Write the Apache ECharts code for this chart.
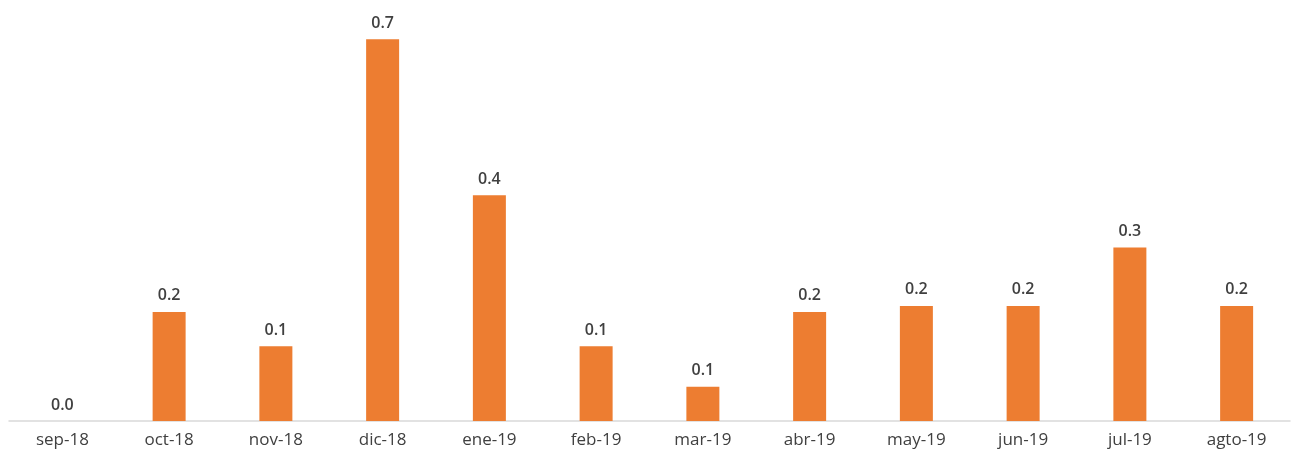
<!DOCTYPE html>
<html>
<head>
<meta charset="utf-8">
<script src="https://cdn.jsdelivr.net/npm/echarts@6/dist/echarts.min.js"></script>
<style>
html,body{margin:0;padding:0;background:#fff;}
#c{width:1292px;height:456px;}
</style>
</head>
<body>
<div id="c"></div>
<script>
const categories = ['sep-18','oct-18','nov-18','dic-18','ene-19','feb-19','mar-19','abr-19','may-19','jun-19','jul-19','agto-19'];
const values = [0.0, 0.20, 0.137, 0.70, 0.414, 0.137, 0.063, 0.20, 0.211, 0.211, 0.318, 0.211];

const chart = echarts.init(document.getElementById('c'));
chart.setOption({
  animation: false,
  backgroundColor: '#ffffff',
  grid: { left: 9, right: 2, top: 12, bottom: 35, containLabel: false },
  xAxis: {
    type: 'category',
    data: categories,
    axisLine: { show: true, lineStyle: { color: '#d9d9d9', width: 1.5 } },
    axisTick: { show: false },
    axisLabel: { color: '#404040', fontSize: 17, fontFamily: 'Open Sans', margin: 11 }
  },
  yAxis: {
    type: 'value',
    min: 0,
    max: 0.75,
    show: false,
    splitLine: { show: false }
  },
  series: [{
    type: 'bar',
    data: values,
    barWidth: 33,
    itemStyle: { color: '#ed7d31' },
    label: {
      show: true,
      position: 'top',
      distance: 8,
      color: '#404040',
      fontSize: 16,
      fontFamily: 'Open Sans',
      fontWeight: 600,
      formatter: p => p.value.toFixed(1)
    }
  }]
});
</script>
</body>
</html>
